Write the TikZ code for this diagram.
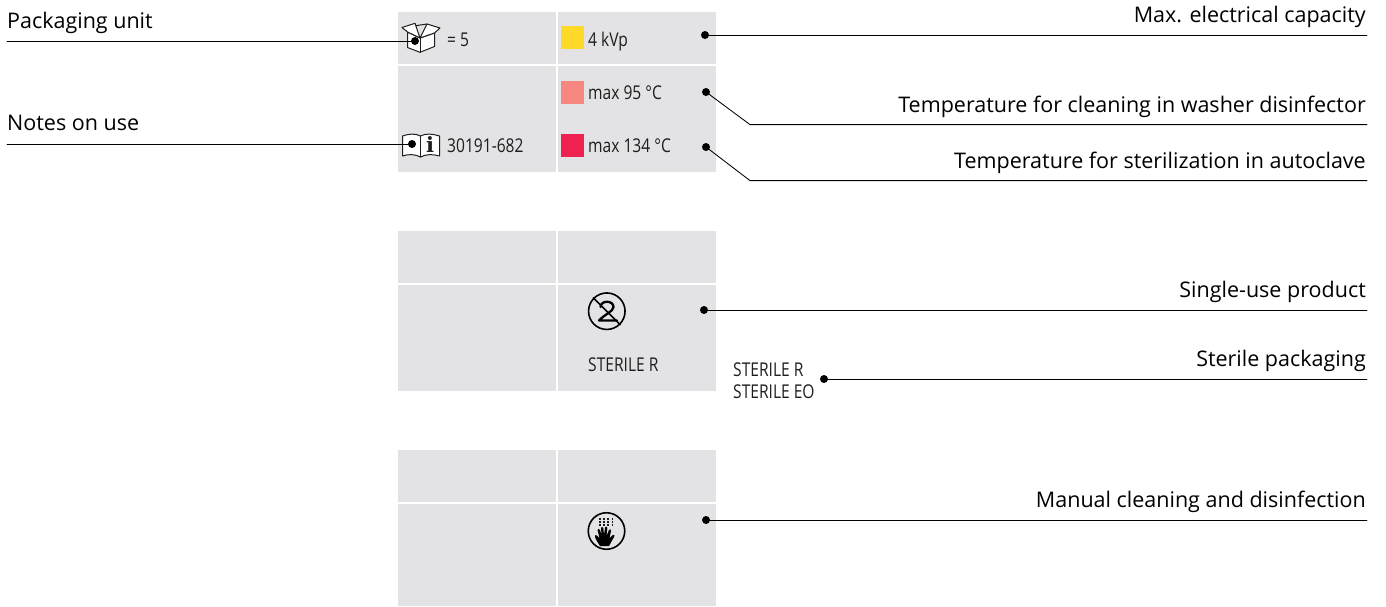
\documentclass[tikz,border=0pt]{standalone}
\usepackage{fontspec}
\setmainfont{Open Sans}
\newfontfamily\condfont[FakeStretch=0.82]{Open Sans}
\newfontfamily\slabfont{DejaVu Serif}
\definecolor{panelgray}{HTML}{E3E3E5}
\definecolor{inkgray}{HTML}{1E1E1E}
\definecolor{swyellow}{HTML}{FFD928}
\definecolor{swpink}{HTML}{F78781}
\definecolor{swred}{HTML}{EE2150}
\begin{document}
\begin{tikzpicture}[x=1pt,y=-1pt,line join=round,line cap=round]
	\tikzset{
		label style/.style={font=\fontsize{21.5}{24}\selectfont,text=black,inner sep=0pt},
		cell style/.style={font=\condfont\fontsize{19}{22}\selectfont,text=inkgray,inner sep=0pt,anchor=base west},
		lead/.style={draw=black,line width=.85pt},
		dot/.style={circle,fill=black,inner sep=0pt,minimum size=8pt},
		swatch/.style={inner sep=0pt,minimum size=23pt}
	}
	\useasboundingbox (0,0) rectangle (1386,606);
	% grey panels
	\foreach \y/\m/\z in {12/65/172,231/284/391,450/503/606}{
		\fill[panelgray] (398,\y) rectangle (716,\z);
		\draw[white,line width=2pt,line cap=butt] (398,\m)--(716,\m) (557,\y)--(557,\z);
	}
	% swatches
	\node[swatch,fill=swyellow] (swa) at (572.5,37.5) {};
	\node[swatch,fill=swpink] (swb) at (572.5,92.5) {};
	\node[swatch,fill=swred] (swc) at (572.5,145.5) {};
	% cell texts
	\node[cell style] (qty) at (447,46) {= 5};
	\node[cell style] (kvp) at (588,46) {4 kVp};
	\node[cell style] (wd) at (588,99) {max 95 °C};
	\node[cell style] (ac) at (588,152) {max 134 °C};
	\node[cell style] (ref) at (447,152) {30191-682};
	\node[cell style] (ster) at (588,371) {STERILE R};
	\node[cell style] (stera) at (733,376) {STERILE R};
	\node[cell style] (sterb) at (733,398) {STERILE EO};
	% box icon
	\begin{scope}[inkgray,line width=1pt]
		\draw[fill=white] (407.5,32)--(407.5,47.5)--(420,52.3)--(434.5,46.5)--(434.5,33)--(420,38)--cycle;
		\draw (420,52.3)--(420,38);
		\draw (410,27)--(420,25)--(427,24);
		\draw[fill=white] (407.5,32)--(402,27.5)--(415,23.3)--(420,38)--cycle;
		\draw[fill=white] (420,38)--(427,24)--(440,28)--(434.5,33)--cycle;
	\end{scope}
	% book icon
	\begin{scope}[inkgray,line width=1pt]
		\draw[fill=white] (420.5,136) .. controls (415,133) and (408,134) .. (402.5,136)--(402.5,156) .. controls (408,154) and (415,154) .. (420.5,157) .. controls (426,154) and (433,154) .. (439.5,156)--(439.5,136) .. controls (433,134) and (426,133) .. (420.5,136)--cycle;
		\draw (420.5,136)--(420.5,157);
		\node[inner sep=0pt,font=\slabfont\bfseries\fontsize{21}{22}\selectfont] (infoi) at (430,145) {i};
	\end{scope}
	% no reuse icon
	\begin{scope}[black,line width=1.6pt]
		\node[circle,draw,inner sep=0pt,minimum size=36.5pt] (noreuse) at (606.8,311.2) {};
		\draw (noreuse.135)--(noreuse.315);
		\draw[line width=2.3pt] (600.5,307) .. controls (600.5,300) and (613.5,300) .. (613.5,307) .. controls (613.5,311) and (604,315) .. (599,320.5)--(617,320.5);
	\end{scope}
	% hand icon
	\node[circle,draw=black,line width=1.6pt,inner sep=0pt,minimum size=36.5pt] (wash) at (606.5,531) {};
	\foreach \i in {0,...,3}
	\foreach \j in {0,1,2}
	\fill[inkgray] ({599+4.2*\i},{518+3*\j}) rectangle +(1.5,1.8);
	\fill[black] (600,546) .. controls (597,541) and (594.5,538) .. (595,535.5) .. controls (596,534) and (598.5,537) .. (599.5,538)--(597.5,530) .. controls (597.5,528.5) and (599.5,528.5) .. (600,530)--(601.5,535)--(601,528) .. controls (601,526.5) and (603,526.5) .. (603.3,528)--(604,535)--(605,527.5) .. controls (605.5,526) and (607.5,526.5) .. (607.3,528)--(606.5,536)--(609,530) .. controls (609.5,528.5) and (611.5,529) .. (611,531)--(609.5,538)--(613,535) .. controls (614.5,534) and (615,535.5) .. (614,537) .. controls (612,540) and (611,543) .. (609,546)--cycle;
	% dots
	\node[dot] (dbox) at (415,41) {};
	\node[dot] (dbook) at (412,144) {};
	\node[dot] (dkv) at (705,35) {};
	\node[dot] (dwd) at (706,92) {};
	\node[dot] (dac) at (706,147) {};
	\node[dot] (dsingle) at (704,310) {};
	\node[dot] (dster) at (824,379) {};
	\node[dot] (dman) at (706,520) {};
	% leaders
	\coordinate (ebox) at (7,41);
	\coordinate (ebook) at (7,144);
	\coordinate (ekv) at (1367,35);
	\coordinate (kwd) at (750,124.6);
	\coordinate (ewd) at (1367,124.6);
	\coordinate (kac) at (750,180.6);
	\coordinate (eac) at (1367,180.6);
	\coordinate (esingle) at (1367,310);
	\coordinate (ester) at (1367,379);
	\coordinate (eman) at (1367,520);
	\draw[lead] (ebox)--(dbox.center);
	\draw[lead] (ebook)--(dbook.center);
	\draw[lead] (dkv.center)--(ekv);
	\draw[lead] (dwd.center)--(kwd)--(ewd);
	\draw[lead] (dac.center)--(kac)--(eac);
	\draw[lead] (dsingle.center)--(esingle);
	\draw[lead] (dster.center)--(ester);
	\draw[lead] (dman.center)--(eman);
	% labels
	\node[label style,anchor=base west] (lbox) at (7,28) {Packaging unit};
	\node[label style,anchor=base west] (lbook) at (7,130) {Notes on use};
	\node[label style,anchor=base east] (lkv) at (1366,22) {Max. electrical capacity};
	\node[label style,anchor=base east] (lwd) at (1366,112) {Temperature for cleaning in washer disinfector};
	\node[label style,anchor=base east] (lac) at (1366,168) {Temperature for sterilization in autoclave};
	\node[label style,anchor=base east] (lsingle) at (1366,297) {Single-use product};
	\node[label style,anchor=base east] (lster) at (1366,366) {Sterile packaging};
	\node[label style,anchor=base east] (lman) at (1366,507) {Manual cleaning and disinfection};
\end{tikzpicture}
\end{document}
